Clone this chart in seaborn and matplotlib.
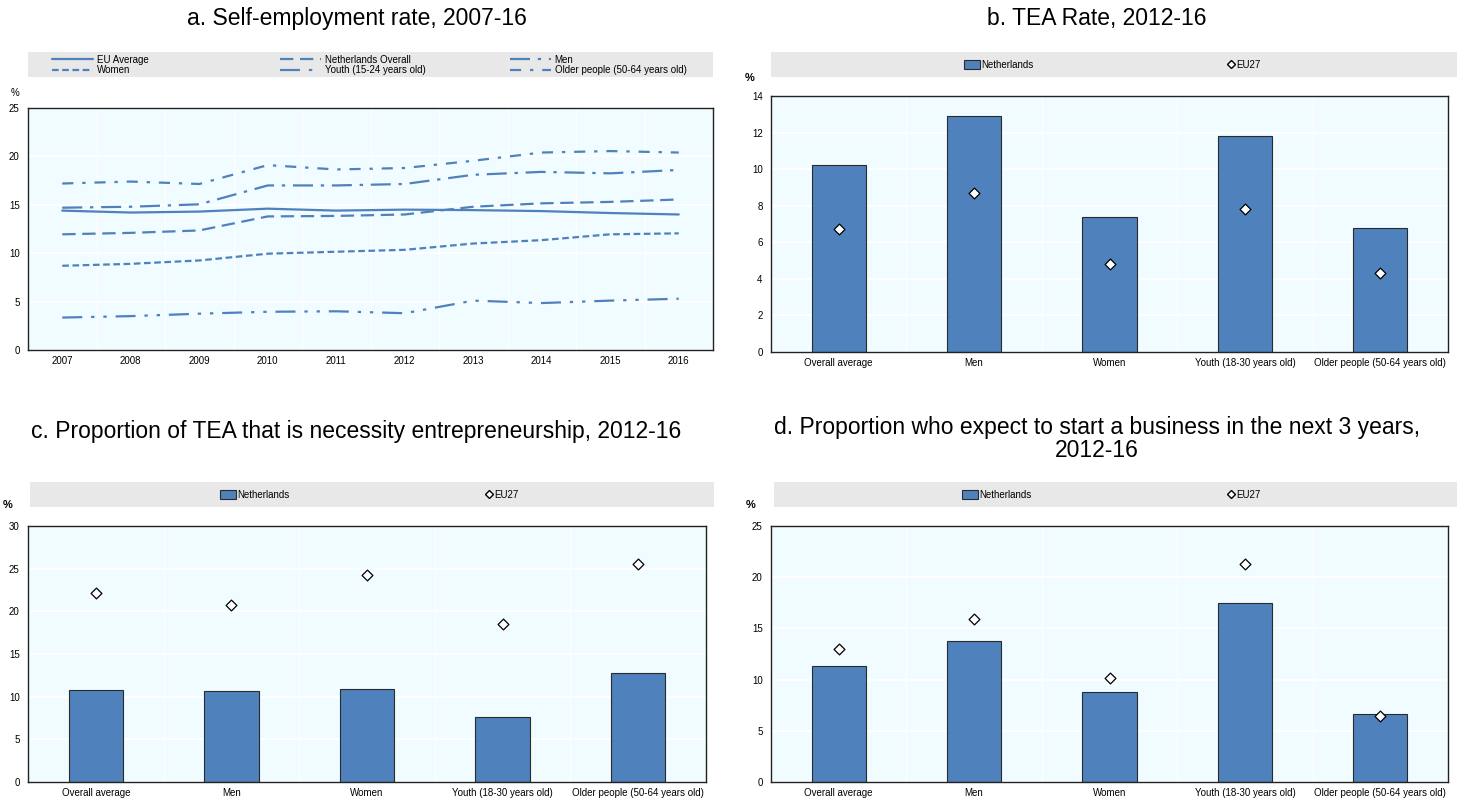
import matplotlib
matplotlib.use("Agg")
import matplotlib.pyplot as plt
from matplotlib.patches import Rectangle, Patch
from matplotlib.lines import Line2D
import seaborn as sns
import numpy as np

# ---- data -------------------------------------------------------------
years = [2007, 2008, 2009, 2010, 2011, 2012, 2013, 2014, 2015, 2016]
eu_average = [14.4, 14.2, 14.3, 14.6, 14.4, 14.5, 14.45, 14.35, 14.15, 14.0]
nl_overall = [11.95, 12.1, 12.35, 13.8, 13.85, 14.0, 14.8, 15.15, 15.3, 15.55]
men = [14.7, 14.8, 15.05, 17.0, 17.0, 17.15, 18.1, 18.4, 18.25, 18.6]
women = [8.7, 8.9, 9.25, 9.95, 10.15, 10.35, 11.0, 11.35, 11.95, 12.05]
youth = [3.35, 3.5, 3.75, 3.95, 4.0, 3.8, 5.1, 4.85, 5.1, 5.3]
older = [17.2, 17.4, 17.15, 19.1, 18.65, 18.8, 19.55, 20.4, 20.55, 20.4]

groups = ["Overall average", "Men", "Women", "Youth (18-30 years old)",
          "Older people (50-64 years old)"]
tea_nl = [10.2, 12.9, 7.4, 11.8, 6.8]
tea_eu = [6.7, 8.7, 4.8, 7.8, 4.3]
necessity_nl = [10.8, 10.7, 10.9, 7.6, 12.8]
necessity_eu = [22.1, 20.8, 24.2, 18.5, 25.5]
expect_nl = [11.3, 13.8, 8.8, 17.5, 6.6]
expect_eu = [13.0, 15.9, 10.2, 21.3, 6.4]

# ---- style ------------------------------------------------------------
sns.set_theme(style="white")
plt.rcParams["font.family"] = ["Liberation Sans", "DejaVu Sans"]
plt.rcParams["text.color"] = "black"
plt.rcParams["xtick.color"] = "black"
plt.rcParams["ytick.color"] = "black"

BLUE = "#4F81BD"
PLOT_BG = "#F0FCFF"
LEGEND_BG = "#E8E8E8"
TITLE_SIZE = 16.5
W, H = 1457, 805

fig = plt.figure(figsize=(W / 100, H / 100), dpi=100)


def fx(px):
    return px / W


def fy(py):
    return 1 - py / H


def make_axes(left, right, top, bottom):
    return fig.add_axes([fx(left), fy(bottom), fx(right) - fx(left),
                         fy(top) - fy(bottom)])


def style_axes(ax, ymax, ystep):
    ax.set_facecolor(PLOT_BG)
    ax.set_ylim(0, ymax)
    ax.set_yticks(np.arange(0, ymax + 0.01, ystep))
    ax.grid(axis="y", color="white", lw=1.2)
    ax.grid(axis="x", visible=False)
    ax.set_axisbelow(True)
    for s in ax.spines.values():
        s.set_color("#222222")
        s.set_linewidth(1.0)
    ax.tick_params(axis="y", which="both", length=0, labelsize=7, pad=6)
    ax.tick_params(axis="x", which="major", length=0, labelsize=7, pad=4)
    ax.tick_params(axis="x", which="minor", length=4, width=0.8,
                   color="#555555", direction="out")
    ax.set_xlabel("")
    ax.set_ylabel("")


def legend_band(left, right, top, bottom):
    fig.patches.append(Rectangle((fx(left), fy(bottom)), fx(right) - fx(left),
                                 fy(top) - fy(bottom), transform=fig.transFigure,
                                 facecolor=LEGEND_BG, edgecolor="none", zorder=0))


def legend_at(handles, x, y, **kw):
    opts = dict(loc="center left", frameon=False, fontsize=7, borderpad=0,
                borderaxespad=0, labelspacing=0.05)
    opts.update(kw)
    fig.legend(handles=handles, bbox_to_anchor=(fx(x), fy(y)), **opts)


# ---- panel a: line chart ---------------------------------------------
ax_a = make_axes(28, 713, 108, 350)
series = [
    ("EU Average", eu_average, "-"),
    ("Women", women, (0, (3, 1.6))),
    ("Netherlands Overall", nl_overall, (0, (6, 3))),
    ("Youth (15-24 years old)", youth, (0, (9, 4, 1.5, 4, 1.5, 4))),
    ("Men", men, (0, (9, 3.5, 1.5, 3.5))),
    ("Older people (50-64 years old)", older, (0, (5, 4, 1.5, 4))),
]
handles_a = []
for name, vals, ls in series:
    sns.lineplot(x=years, y=vals, ax=ax_a, color=BLUE, lw=1.6, linestyle=ls)
    handles_a.append(Line2D([], [], color=BLUE, lw=1.6, linestyle=ls, label=name))
style_axes(ax_a, 25, 5)
ax_a.set_xlim(2006.5, 2016.5)
ax_a.set_xticks(years)
ax_a.set_xticks(np.arange(2007.5, 2016.5, 1), minor=True)
ax_a.set_xticklabels([str(y) for y in years])
ax_a.grid(axis="x", which="minor", color="white", lw=1.0)

legend_band(28, 713, 52, 77)
for col, x0 in enumerate([52, 280, 510]):
    legend_at(handles_a[2 * col:2 * col + 2], x0, 65,
              handlelength=4.2, handletextpad=0.4)
fig.text(fx(15), fy(93), "%", fontsize=7, ha="center", va="center")
fig.text(fx(357), fy(18), "a. Self-employment rate, 2007-16",
         fontsize=TITLE_SIZE, ha="center", va="center")


# ---- bar panels -------------------------------------------------------
def bar_panel(left, right, top, bottom, nl_vals, eu_vals, ymax, ystep):
    ax = make_axes(left, right, top, bottom)
    sns.barplot(x=groups, y=nl_vals, ax=ax, color=BLUE, saturation=1,
                width=0.4, edgecolor="#2a2a2a", linewidth=0.8)
    sns.stripplot(x=groups, y=eu_vals, ax=ax, jitter=False, marker="D",
                  color="white", edgecolor="black", linewidth=0.9, size=5.5,
                  zorder=5)
    style_axes(ax, ymax, ystep)
    ax.set_xlim(-0.5, 4.5)
    ax.set_xticks(np.arange(0.5, 4, 1), minor=True)
    ax.grid(axis="x", which="minor", color="white", lw=1.0)
    return ax


def bar_legend(left, right, top, bottom, x_nl, x_eu):
    legend_band(left, right, top, bottom)
    y = (top + bottom) / 2
    nl = Patch(facecolor=BLUE, edgecolor="#2a2a2a", lw=0.8, label="Netherlands")
    eu = Line2D([], [], marker="D", color="none", markerfacecolor="white",
                markeredgecolor="black", markersize=4.5, label="EU27")
    legend_at([nl], x_nl, y, handlelength=1.6, handleheight=1.1,
              handletextpad=0.2)
    legend_at([eu], x_eu, y, handlelength=0.6, handletextpad=0.2)


bar_panel(771, 1448, 96, 352, tea_nl, tea_eu, 14, 2)
bar_legend(771, 1457, 52, 77, 964, 1228)
fig.text(fx(750), fy(78), "%", fontsize=8, fontweight="bold",
         ha="center", va="center")
fig.text(fx(1097), fy(19), "b. TEA Rate, 2012-16", fontsize=TITLE_SIZE,
         ha="center", va="center")

bar_panel(28, 706, 526, 782, necessity_nl, necessity_eu, 30, 5)
bar_legend(30, 714, 482, 507, 220, 486)
fig.text(fx(8), fy(505), "%", fontsize=8, fontweight="bold",
         ha="center", va="center")
fig.text(fx(356), fy(431),
         "c. Proportion of TEA that is necessity entrepreneurship, 2012-16",
         fontsize=TITLE_SIZE, ha="center", va="center")

bar_panel(771, 1448, 526, 782, expect_nl, expect_eu, 25, 5)
bar_legend(774, 1457, 482, 507, 962, 1228)
fig.text(fx(751), fy(505), "%", fontsize=8, fontweight="bold",
         ha="center", va="center")
fig.text(fx(1097), fy(439),
         "d. Proportion who expect to start a business in the next 3 years,\n2012-16",
         fontsize=TITLE_SIZE, ha="center", va="center", linespacing=1.0)

fig.savefig("out.png", dpi=100, facecolor="white")
